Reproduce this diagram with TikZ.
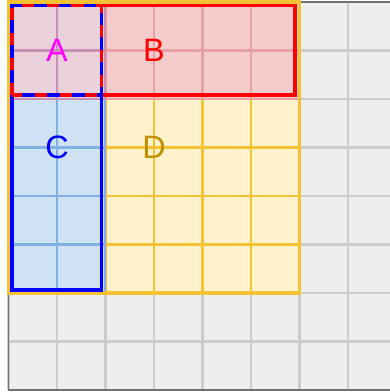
\documentclass[tikz,border=0pt]{standalone}
\usepackage{fontspec}
\setmainfont{Liberation Sans}
\definecolor{bgc}{HTML}{EEEEEE}
\definecolor{gridc}{HTML}{CCCCCC}
\definecolor{framec}{HTML}{707070}
\definecolor{dfill}{HTML}{FFF2CC}
\definecolor{dline}{HTML}{F4C232}
\definecolor{dtext}{HTML}{BF9000}
\definecolor{bfill}{HTML}{F4CCCC}
\definecolor{bgrid}{HTML}{E8A0A4}
\definecolor{cfill}{HTML}{CFE2F3}
\definecolor{cgrid}{HTML}{7FB0E0}
\definecolor{afill}{HTML}{EAD1DC}
\definecolor{agrid}{HTML}{C890B4}
\tikzset{
  gridline/.style={line width=1.2pt},
  setborder/.style={line width=2pt},
  lbl/.style={font=\fontsize{19}{22}\selectfont, inner sep=0pt, anchor=center}
}
\begin{document}
\begin{tikzpicture}[x=1cm,y=1cm]
\useasboundingbox (-0.175,-0.041) rectangle (7.866,8.041);
% background grid
\fill[bgc] (0,0) rectangle (8.5,8);
\draw[gridc, gridline] (0,0) grid (8.5,8);
% D
\fill[dfill] (0,2) rectangle (6,8);
\draw[dline, gridline] (0,2) grid (6,8);
% B
\fill[bfill] (0,6) rectangle (6,8);
\draw[bgrid, gridline] (0,6) grid (6,8);
% C
\fill[cfill] (0,2) rectangle (2,8);
\draw[cgrid, gridline] (0,2) grid (2,8);
% A
\fill[afill] (0,6) rectangle (2,8);
\draw[agrid, gridline] (0,6) grid (2,8);
% outer frame
\draw[framec, line width=1pt] (8.5,8) -- (0,8) -- (0,0) -- (8.5,0);
% borders
\draw[dline, line width=1.8pt] (0,2) rectangle (6,8);
\draw[red, setborder] (0.07,6.08) rectangle (5.91,7.93);
\draw[blue, setborder] (0.07,2.06) rectangle (1.92,7.93);
\draw[blue, setborder] (0.07,6.08) rectangle (1.92,7.93);
\draw[red, setborder, dash pattern=on 7.3pt off 7.3pt] (0.07,6.08) rectangle (1.92,7.93);
% labels
\node[lbl, text={rgb,255:red,255;green,0;blue,255}] (la) at (1,7) {A};
\node[lbl, text=red] (lb) at (3,7) {B};
\node[lbl, text=blue] (lc) at (1,5) {C};
\node[lbl, text=dtext] (ld) at (3,5) {D};
\end{tikzpicture}
\end{document}
